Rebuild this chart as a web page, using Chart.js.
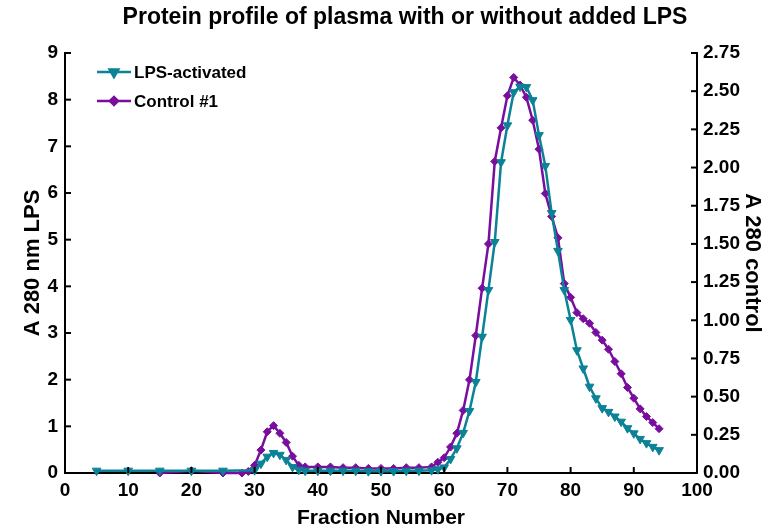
<!DOCTYPE html>
<html>
<head>
<meta charset="utf-8">
<script src="https://cdn.jsdelivr.net/npm/chart.js@4.4.0/dist/chart.umd.min.js"></script>
<style>
  html, body { margin: 0; padding: 0; background: #fff; }
  #wrap { width: 778px; height: 531px; }
</style>
</head>
<body>
<div id="wrap"><canvas id="profile" width="778" height="531"></canvas></div>
<script>
// Fraction numbers and A280 readings
let lpsFrac = [5, 10, 15, 20, 25, 30, 31, 32, 33, 34, 35, 36, 37, 38, 40, 42, 44, 46, 48, 50, 52, 54, 56, 58,
  59, 60, 61, 62, 63, 64, 65, 66, 67, 68, 69, 70, 71, 72, 73, 74, 75, 76, 77, 78, 79, 80, 81, 82, 83, 84, 85, 86,
  87, 88, 89, 90, 91, 92, 93, 94]
let lpsVal = [0.05, 0.05, 0.05, 0.05, 0.05, 0.06, 0.2, 0.35, 0.43, 0.39, 0.28, 0.13, 0.07, 0.05, 0.05, 0.05, 0.05, 0.05, 0.04, 0.04, 0.04, 0.05, 0.05, 0.06,
  0.08, 0.12, 0.3, 0.53, 0.86, 1.33, 1.95, 2.92, 3.92, 4.95, 6.66, 7.45, 8.16, 8.28, 8.27, 7.99, 7.24, 6.58, 5.57, 4.76, 3.92, 3.28, 2.63, 2.24, 1.85, 1.6, 1.39, 1.31,
  1.21, 1.1, 0.96, 0.85, 0.73, 0.64, 0.56, 0.49]

let ctrlFrac = [15, 20, 25, 28, 29, 30, 31, 32, 33, 34, 35, 36, 37, 38, 40, 42, 44, 46, 48, 50, 52, 54, 56, 58,
  59, 60, 61, 62, 63, 64, 65, 66, 67, 68, 69, 70, 71, 72, 73, 74, 75, 76, 77, 78, 79, 80, 81, 82, 83, 84, 85, 86,
  87, 88, 89, 90, 91, 92, 93, 94]
let ctrlVal = [0, 0.015, 0, 0, 0.01, 0.05, 0.15, 0.27, 0.31, 0.26, 0.2, 0.11, 0.05, 0.04, 0.04, 0.04, 0.035, 0.035, 0.03, 0.03, 0.03, 0.035, 0.035, 0.04,
  0.07, 0.1, 0.17, 0.26, 0.41, 0.61, 0.9, 1.21, 1.5, 2.04, 2.26, 2.47, 2.59, 2.54, 2.46, 2.31, 2.12, 1.83, 1.68, 1.54, 1.24, 1.15, 1.05, 1.01, 0.98, 0.92, 0.87, 0.81,
  0.73, 0.65, 0.56, 0.49, 0.42, 0.37, 0.33, 0.29]

let seriesNames = ['LPS-activated', 'Control #1']
let tealColor = '#0b8296'
let purpleColor = '#790e9e'
let fontFam = "'Liberation Sans', Arial, sans-serif"

function pairs(xs, ys) {
  return xs.map((x, i) => ({ x: x, y: ys[i] }))
}

// ticks point into the plot on all three axes
let innerTicks = {
  id: 'innerTicks',
  afterDraw(chart) {
    let c = chart.ctx
    let area = chart.chartArea
    c.save()
    c.strokeStyle = '#000'
    c.lineWidth = 2
    let xs = chart.scales.x
    xs.ticks.forEach(t => {
      let px = xs.getPixelForValue(t.value)
      c.beginPath(); c.moveTo(px, area.bottom); c.lineTo(px, area.bottom - 6); c.stroke()
    })
    let yl = chart.scales.y
    yl.ticks.forEach(t => {
      let py = yl.getPixelForValue(t.value)
      c.beginPath(); c.moveTo(area.left, py); c.lineTo(area.left + 6, py); c.stroke()
    })
    let yr = chart.scales.y1
    yr.ticks.forEach(t => {
      let py = yr.getPixelForValue(t.value)
      c.beginPath(); c.moveTo(area.right, py); c.lineTo(area.right - 6, py); c.stroke()
    })
    c.restore()
  }
}

// title + legend with line sample and marker
let decor = {
  id: 'decor',
  afterDraw(chart) {
    let c = chart.ctx
    c.save()
    c.fillStyle = '#000'
    c.font = 'bold 23px ' + fontFam
    c.textAlign = 'center'
    c.textBaseline = 'middle'
    c.fillText('Protein profile of plasma with or without added LPS', 405, 18)

    let rows = [
      { y: 72, color: tealColor, style: 'triangle', rot: 180, r: 5 },
      { y: 101, color: purpleColor, style: 'rectRot', rot: 0, r: 4 }
    ]
    rows.forEach((row, i) => {
      c.strokeStyle = row.color
      c.fillStyle = row.color
      c.lineWidth = 2.5
      c.beginPath(); c.moveTo(97, row.y); c.lineTo(131, row.y); c.stroke()
      Chart.helpers.drawPoint(c, { pointStyle: row.style, radius: row.r, rotation: row.rot, borderWidth: 1 }, 114, row.y)
      c.fillStyle = '#000'
      c.font = 'bold 17px ' + fontFam
      c.textAlign = 'left'
      c.fillText(seriesNames[i], 134, row.y + 1)
    })
    c.restore()
  }
}

let ctx = document.getElementById('profile').getContext('2d')

let profileChart = new Chart(ctx, {
  type: 'line',
  data: {
    datasets: [{
      label: seriesNames[0],
      data: pairs(lpsFrac, lpsVal),
      yAxisID: 'y',
      borderColor: tealColor,
      backgroundColor: tealColor,
      borderWidth: 2.5,
      pointStyle: 'triangle',
      rotation: 180,
      pointRadius: 5,
      pointBorderWidth: 1,
      tension: 0,
      clip: false
    }, {
      label: seriesNames[1],
      data: pairs(ctrlFrac, ctrlVal),
      yAxisID: 'y1',
      borderColor: purpleColor,
      backgroundColor: purpleColor,
      borderWidth: 2.5,
      pointStyle: 'rectRot',
      pointRadius: 4,
      pointBorderWidth: 1,
      tension: 0,
      clip: false
    }]
  },
  options: {
    responsive: false,
    animation: false,
    layout: { padding: { top: 53, right: 0, left: 0, bottom: 0 } },
    plugins: {
      legend: { display: false },
      title: { display: false },
      tooltip: { enabled: false }
    },
    scales: {
      x: {
        type: 'linear',
        min: 0,
        max: 100,
        border: { color: '#000', width: 2 },
        grid: { drawOnChartArea: false, drawTicks: false },
        ticks: { stepSize: 10, color: '#000', padding: 6, font: { family: fontFam, size: 19, weight: 'bold' } },
        title: { display: true, text: 'Fraction Number', color: '#000', padding: { top: 3, bottom: 0 },
          font: { family: fontFam, size: 21, weight: 'bold' } },
        afterFit(s) { s.height = 58 }
      },
      y: {
        position: 'left',
        min: 0,
        max: 9,
        border: { color: '#000', width: 2 },
        grid: { drawOnChartArea: false, drawTicks: false },
        ticks: { stepSize: 1, color: '#000', padding: 7, font: { family: fontFam, size: 19, weight: 'bold' } },
        title: { display: true, text: 'A 280 nm LPS', color: '#000', padding: { top: 20, bottom: 0 },
          font: { family: fontFam, size: 22, weight: 'bold' } },
        afterFit(s) { s.width = 65 }
      },
      y1: {
        position: 'right',
        min: 0,
        max: 2.75,
        border: { color: '#000', width: 2 },
        grid: { drawOnChartArea: false, drawTicks: false },
        ticks: { stepSize: 0.25, color: '#000', padding: 6, font: { family: fontFam, size: 19, weight: 'bold' },
          callback: v => v.toFixed(2) },
        title: { display: true, text: 'A 280 control', color: '#000', padding: { top: 13, bottom: 0 },
          font: { family: fontFam, size: 22, weight: 'bold' } },
        afterFit(s) { s.width = 81 }
      }
    }
  },
  plugins: [innerTicks, decor]
})
</script>
</body>
</html>
